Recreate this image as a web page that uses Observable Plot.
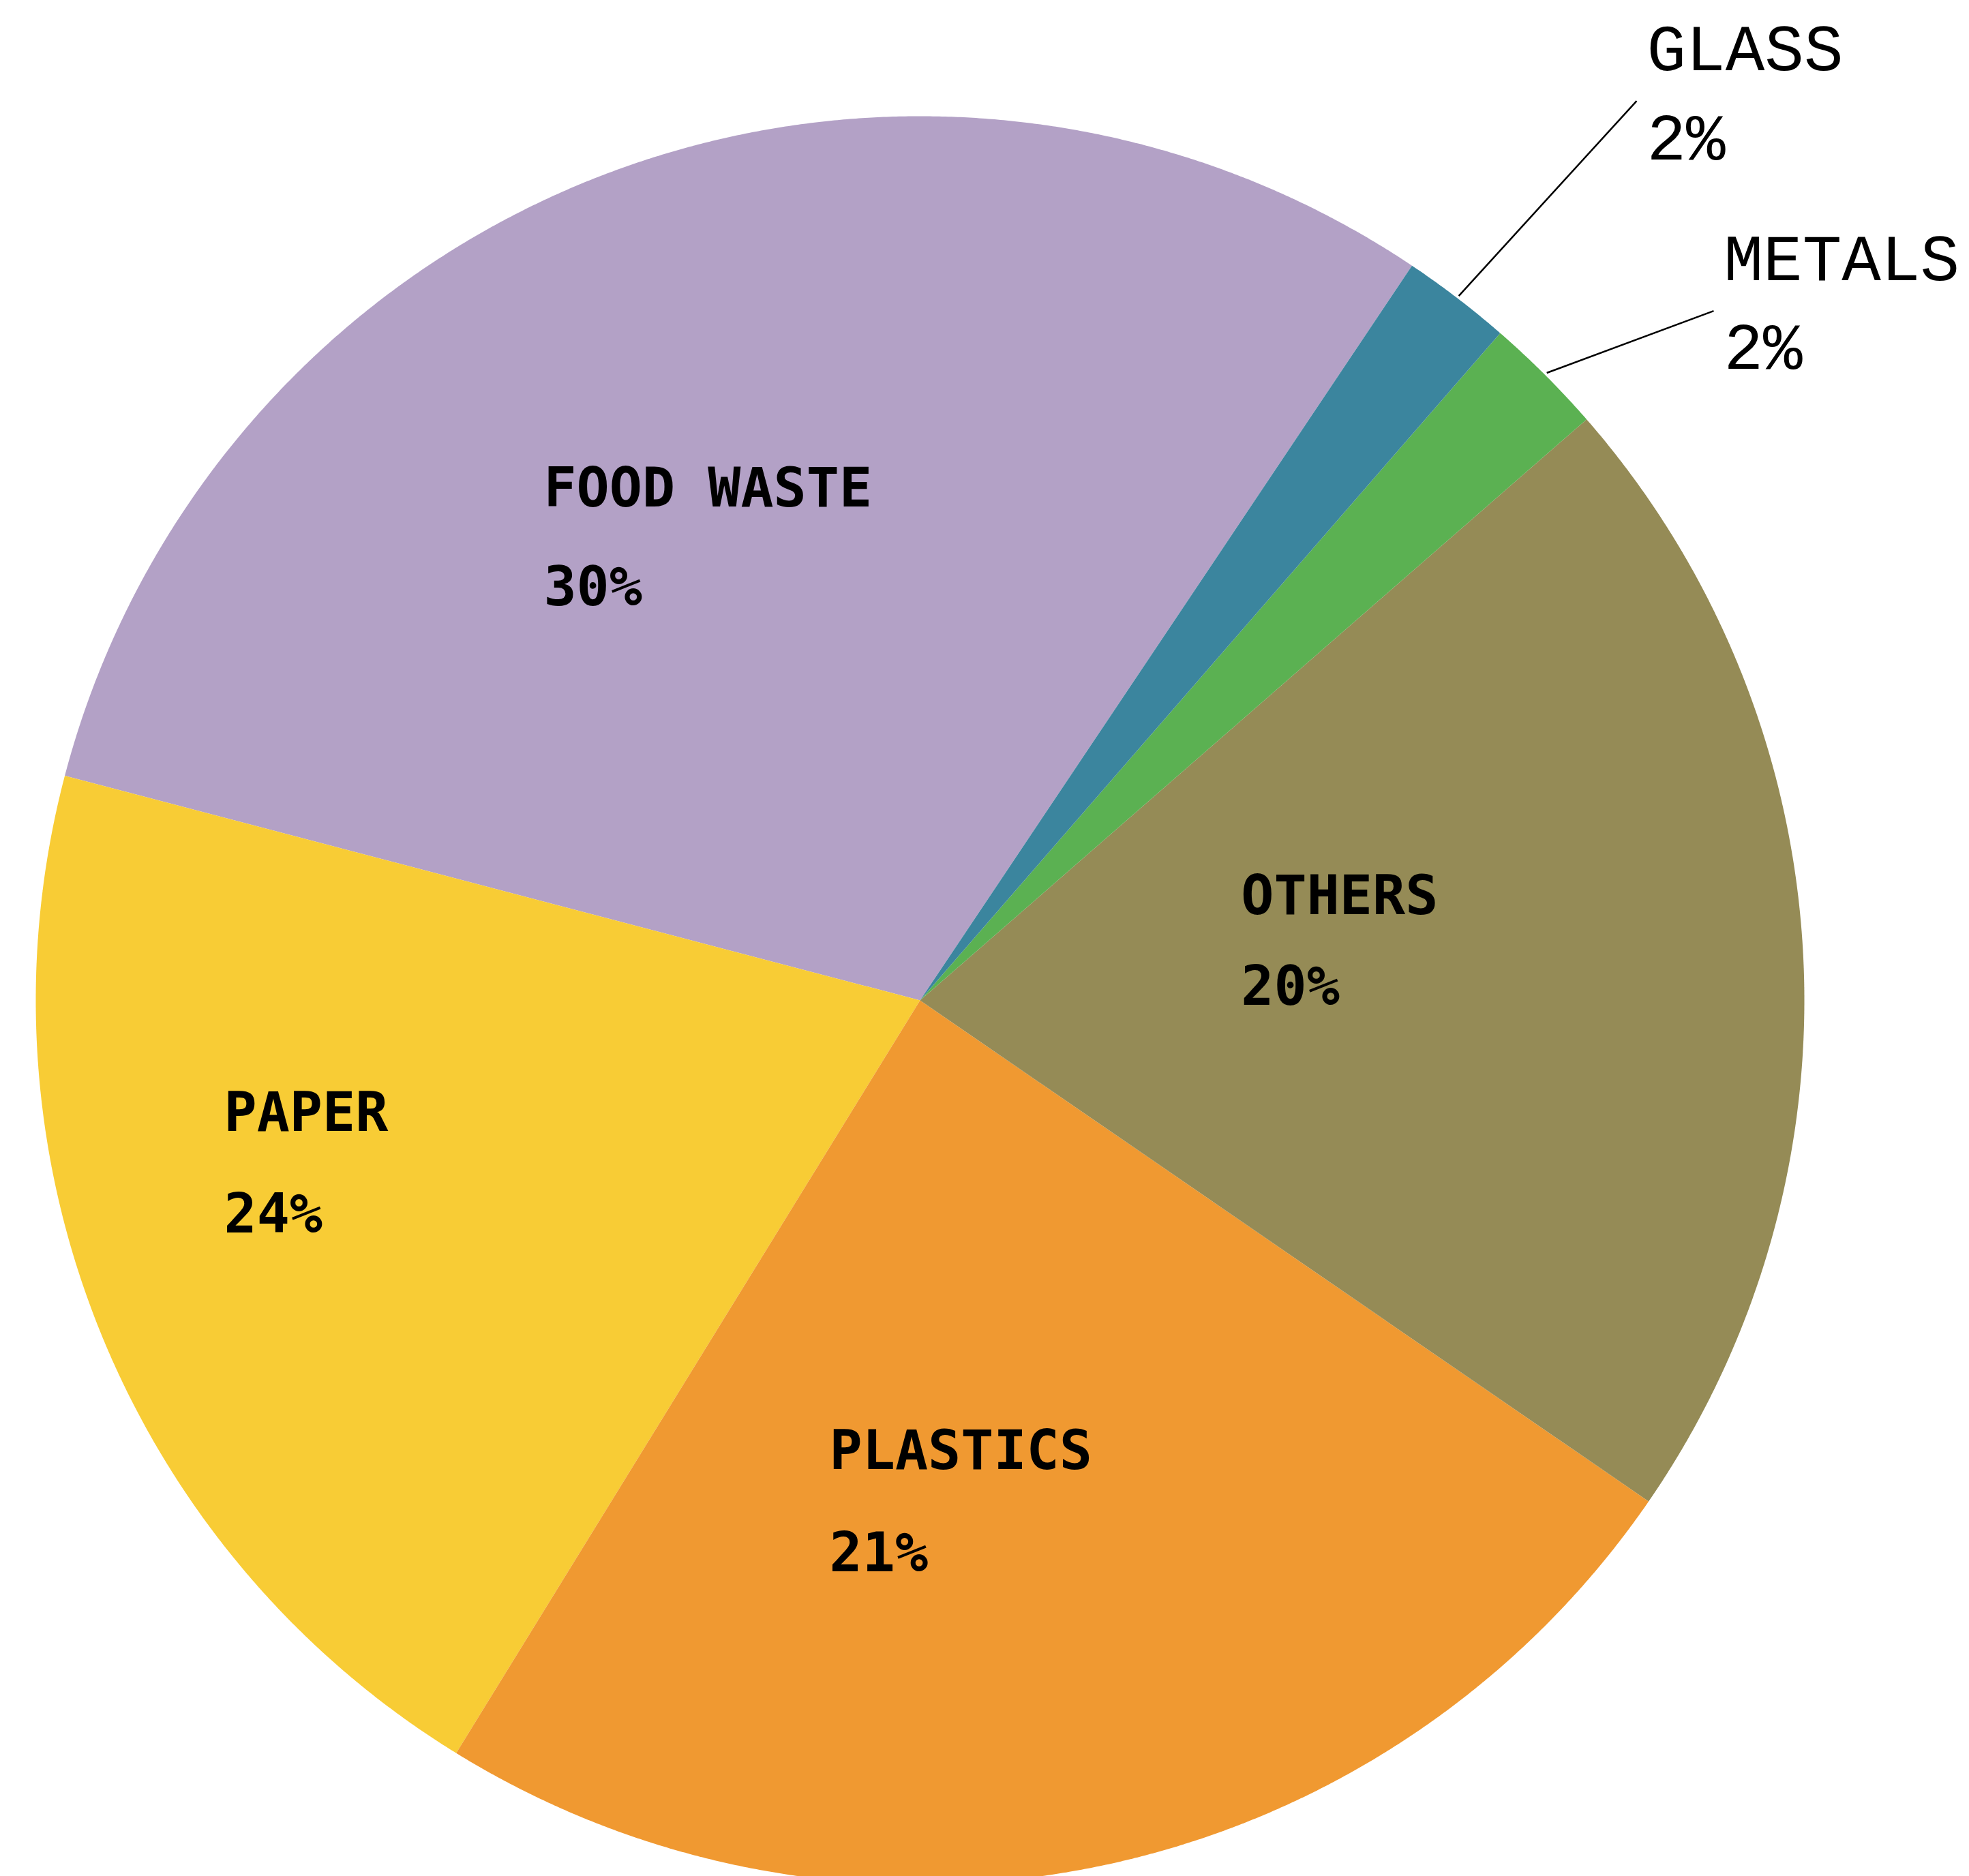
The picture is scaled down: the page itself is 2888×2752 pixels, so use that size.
<!DOCTYPE html>
<html><head><meta charset="utf-8">
<script src="https://cdn.jsdelivr.net/npm/d3@7"></script>
<script src="https://cdn.jsdelivr.net/npm/@observablehq/plot@0.6"></script>
<style>html,body{margin:0;padding:0;background:#fff;overflow:hidden}</style>
</head><body><div id="chart"></div>
<script>
// ---- data ----
const categories = ["FOOD WASTE", "PAPER", "PLASTICS", "OTHERS", "METALS", "GLASS"];
// wedge shares (%) as drawn, counterclockwise from the top wedge
const shares = [30.3, 20.3, 24.2, 21.0, 2.2, 2.0];
// percentage texts printed on the chart
const pctLabels = ["30%", "24%", "21%", "20%", "2%", "2%"];
const outsideLabels = ["METALS", "GLASS"];

// ---- styles / layout ----
const palette = ["#B3A1C6", "#F8CC35", "#F09931", "#958B56", "#5BB152", "#3B859E"];
const W = 2888, H = 2752, CX = 1349, CY = 1467, R = 1297;
const START_DEG = 33.8; // first wedge begins here (clockwise from north), wedges run counterclockwise
// label anchor (left of name baseline) in polar form: radius as fraction of R, angle clockwise from north; gap to the % line
const labelLayout = {
  "FOOD WASTE": {r: 0.7026, a: 322.71, gap: 145},
  "PAPER":      {r: 0.801,  a: 259.35, gap: 149},
  "PLASTICS":   {r: 0.540,  a: 190.94, gap: 150},
  "OTHERS":     {r: 0.376,  a: 74.91,  gap: 133},
  "METALS":     {r: 1.2205, a: 48.14,  gap: 130},
  "GLASS":      {r: 1.335,  a: 38.0,   gap: 131}
};

const rad = d => d * Math.PI / 180;
const pt = (theta, r) => [CX + r * Math.sin(theta), CY - r * Math.cos(theta)];

const arcs = d3.pie().sort(null).value(d => d)
  .startAngle(rad(START_DEG)).endAngle(rad(START_DEG) - 2 * Math.PI)(shares);

// wedge outlines
const wedgeRows = [];
arcs.forEach((a, i) => {
  const name = categories[i];
  const span = a.endAngle - a.startAngle;
  const n = Math.max(8, Math.ceil(Math.abs(span) / rad(0.2)));
  wedgeRows.push({name, x: CX, y: CY});
  for (let k = 0; k <= n; k++) {
    const [x, y] = pt(a.startAngle + span * k / n, R);
    wedgeRows.push({name, x, y});
  }
  wedgeRows.push({name, x: CX, y: CY});
});

// labels
const nameRows = [], pctRows = [], leaders = [];
categories.forEach((name, i) => {
  const L = labelLayout[name];
  const [x, y] = pt(rad(L.a), L.r * R);
  const outside = outsideLabels.includes(name);
  nameRows.push({text: name, x, y, outside});
  pctRows.push({text: pctLabels[i], x, y: y + L.gap, outside});
  if (outside) {
    const a = arcs[i];
    const mid = (a.startAngle + a.endAngle) / 2;
    const [x1, y1] = pt(mid, R * 1.003);
    leaders.push({x1, y1, x2: x - 15, y2: y + 45});
  }
});
const textRows = nameRows.concat(pctRows);

const chart = Plot.plot({
  width: W, height: H, margin: 0,
  x: {domain: [0, W], range: [0, W], axis: null},
  y: {domain: [0, H], range: [0, H], axis: null},
  color: {domain: categories, range: palette},
  style: {background: "white"},
  marks: [
    Plot.line(wedgeRows, {x: "x", y: "y", z: "name", fill: "name", stroke: "none"}),
    Plot.link(leaders, {x1: "x1", y1: "y1", x2: "x2", y2: "y2", stroke: "black", strokeWidth: 2.5}),
    Plot.text(textRows.filter(d => !d.outside), {
      x: "x", y: "y", text: "text", textAnchor: "start", lineAnchor: "bottom",
      fontFamily: "DejaVu Sans Mono", fontWeight: "bold", fontSize: 80, fill: "black"
    }),
    Plot.text(textRows.filter(d => d.outside), {
      x: "x", y: "y", text: "text", textAnchor: "start", lineAnchor: "bottom",
      fontFamily: "Liberation Mono", fontWeight: "normal", fontSize: 96, fill: "black"
    })
  ]
});
document.getElementById("chart").appendChild(chart);
</script>
</body></html>
